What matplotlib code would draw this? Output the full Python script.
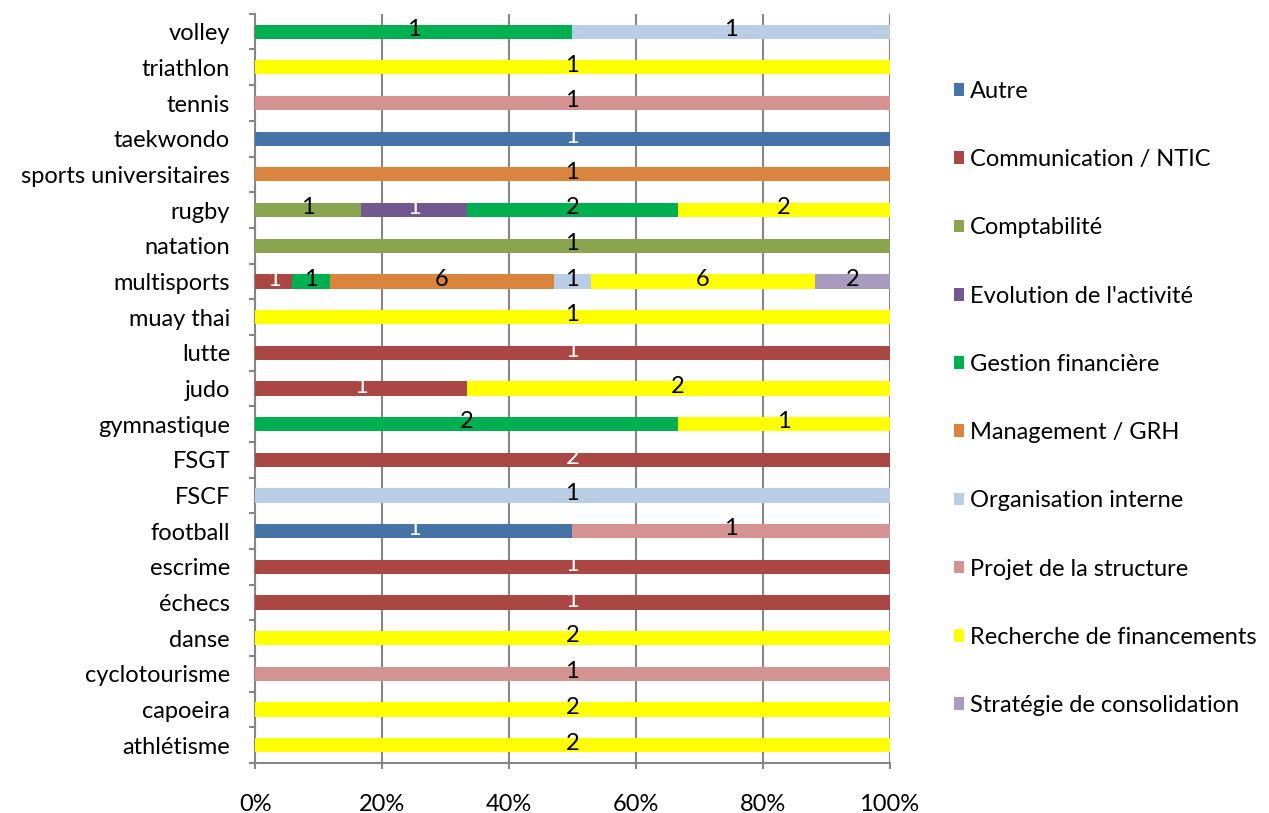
import matplotlib
matplotlib.use("Agg")
import matplotlib.pyplot as plt
import numpy as np
from matplotlib.patches import Patch
from matplotlib.ticker import FixedLocator, PercentFormatter

plt.rcParams['font.family'] = ['Lato', 'DejaVu Sans']

categories = ["athlétisme", "capoeira", "cyclotourisme", "danse", "échecs", "escrime",
              "football", "FSCF", "FSGT", "gymnastique", "judo", "lutte", "muay thai",
              "multisports", "natation", "rugby", "sports universitaires", "taekwondo",
              "tennis", "triathlon", "volley"]

series_names = ["Autre", "Communication / NTIC", "Comptabilité", "Evolution de l'activité",
                "Gestion financière", "Management / GRH", "Organisation interne",
                "Projet de la structure", "Recherche de financements", "Stratégie de consolidation"]

autre         = [0, 0, 0, 0, 0, 0, 1, 0, 0, 0, 0, 0, 0, 0, 0, 0, 0, 1, 0, 0, 0]
communication = [0, 0, 0, 0, 1, 1, 0, 0, 2, 0, 1, 1, 0, 1, 0, 0, 0, 0, 0, 0, 0]
comptabilite  = [0, 0, 0, 0, 0, 0, 0, 0, 0, 0, 0, 0, 0, 0, 1, 1, 0, 0, 0, 0, 0]
evolution     = [0, 0, 0, 0, 0, 0, 0, 0, 0, 0, 0, 0, 0, 0, 0, 1, 0, 0, 0, 0, 0]
gestion       = [0, 0, 0, 0, 0, 0, 0, 0, 0, 2, 0, 0, 0, 1, 0, 2, 0, 0, 0, 0, 1]
management    = [0, 0, 0, 0, 0, 0, 0, 0, 0, 0, 0, 0, 0, 6, 0, 0, 1, 0, 0, 0, 0]
organisation  = [0, 0, 0, 0, 0, 0, 0, 1, 0, 0, 0, 0, 0, 1, 0, 0, 0, 0, 0, 0, 1]
projet        = [0, 0, 1, 0, 0, 0, 1, 0, 0, 0, 0, 0, 0, 0, 0, 0, 0, 0, 1, 0, 0]
recherche     = [2, 2, 0, 2, 0, 0, 0, 0, 0, 1, 2, 0, 1, 6, 0, 2, 0, 0, 0, 1, 0]
strategie     = [0, 0, 0, 0, 0, 0, 0, 0, 0, 0, 0, 0, 0, 2, 0, 0, 0, 0, 0, 0, 0]

series = [autre, communication, comptabilite, evolution, gestion, management,
          organisation, projet, recherche, strategie]
colors = ["#4572A7", "#AA4643", "#89A54E", "#71588F", "#00B050", "#DB843D",
          "#B9CDE5", "#D49391", "#FFFF00", "#A99BBD"]
label_colors = ["white", "white", "black", "white", "black", "black",
                "black", "black", "black", "black"]

data = np.array(series, dtype=float)
totals = data.sum(axis=0)
pct = data / totals

fig = plt.figure(figsize=(12.69, 8.13), dpi=100)
ax = fig.add_axes([0.201, 0.0615, 0.5, 0.9215])

y = np.arange(len(categories))
left = np.zeros(len(categories))
fs = 17
for i, name in enumerate(series_names):
    w = pct[i]
    ax.barh(y, w, left=left, height=0.4, color=colors[i], label=name, zorder=3)
    for j in range(len(categories)):
        if data[i, j] > 0:
            ax.text(left[j] + w[j] / 2, y[j] + 0.06, f"{int(data[i, j])}",
                    ha="center", va="center", fontsize=fs, color=label_colors[i], zorder=4)
    left = left + w

ax.set_xlim(0, 1)
ax.set_ylim(-0.5, len(categories) - 0.5)
ax.xaxis.set_major_locator(FixedLocator([0, 0.2, 0.4, 0.6, 0.8, 1.0]))
ax.xaxis.set_major_formatter(PercentFormatter(1.0, decimals=0))
ax.grid(axis="x", color="#868686", linewidth=1.5, zorder=0)
ax.set_axisbelow(True)

ax.set_yticks(y)
ax.set_yticklabels(categories, fontsize=fs)
ax.yaxis.set_minor_locator(FixedLocator(np.arange(-0.5, len(categories), 1.0)))
ax.tick_params(axis="y", which="major", length=0, pad=18)
ax.tick_params(axis="y", which="minor", length=4, width=1.5, color="#868686")
ax.tick_params(axis="x", which="major", length=4, width=1.5, color="#868686",
               labelsize=fs, pad=18)

for s in ["top", "right"]:
    ax.spines[s].set_visible(False)
for s in ["left", "bottom"]:
    ax.spines[s].set_color("#868686")
    ax.spines[s].set_linewidth(1.5)

handles = [Patch(facecolor=colors[i], label=series_names[i]) for i in range(len(series_names))]
fig.legend(handles=handles, loc="upper left", bbox_to_anchor=(0.744, 0.912),
           frameon=False, fontsize=fs, handlelength=0.45, handleheight=0.45,
           handletextpad=0.25, labelspacing=2.0, borderaxespad=0)

fig.savefig("out.png", dpi=100)
